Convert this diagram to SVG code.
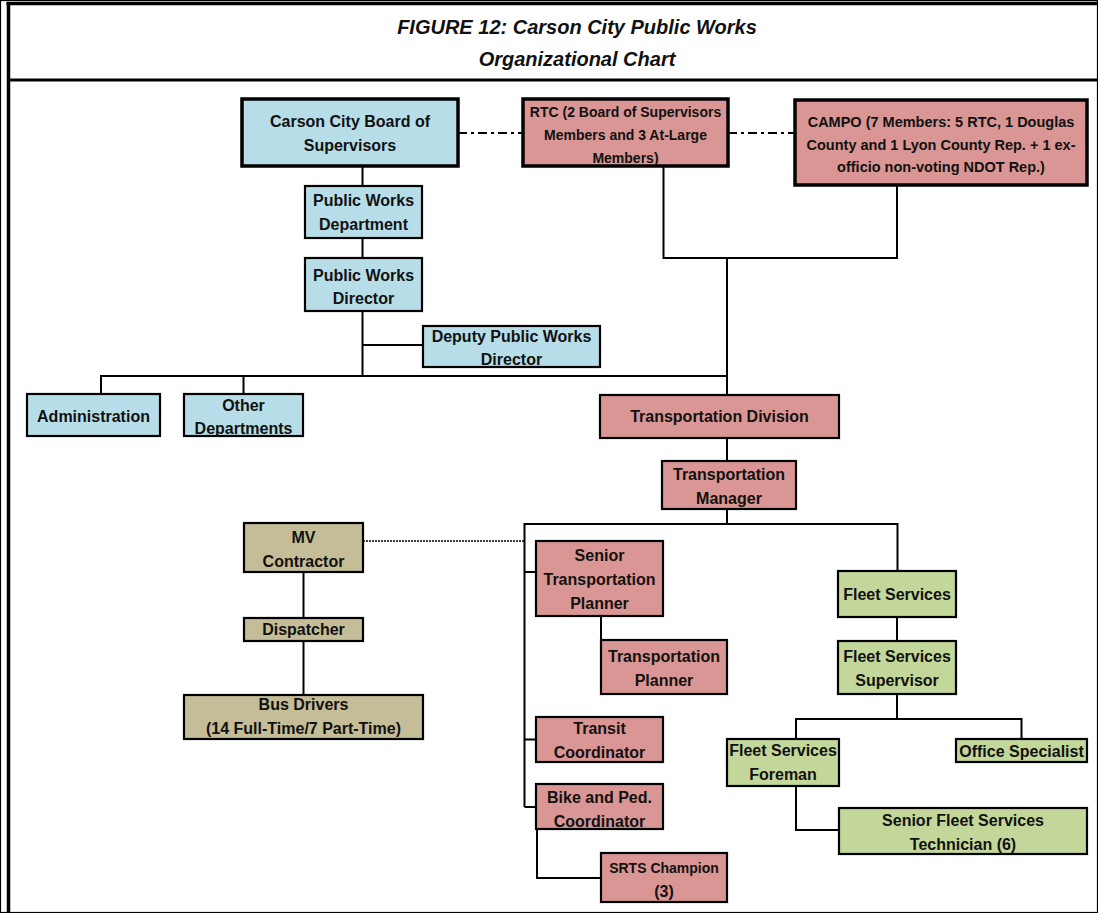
<svg xmlns="http://www.w3.org/2000/svg" width="1098" height="913" viewBox="0 0 1098 913">
<style>
.t{font-family:"Liberation Sans",Arial,sans-serif;font-weight:bold;font-size:16px;fill:#111;text-anchor:middle}
.s14{font-size:14px}
.s145{font-size:14.5px}
.title{font-family:"Liberation Sans",Arial,sans-serif;font-weight:bold;font-style:italic;font-size:20px;fill:#111;text-anchor:middle}
.b rect{fill:#b7dee8}
.r rect{fill:#da9694}
.k rect{fill:#c4bd97}
.g rect{fill:#c4d79b}
rect{stroke:#000;stroke-width:2.2}
.thick rect{stroke-width:3.5}
.c line,.c polyline{stroke:#000;stroke-width:2;fill:none}
.c .dd{stroke-dasharray:9 4 3 4}
.c .dot{stroke-width:1.5;stroke-dasharray:2 1}
</style>
<rect x="0" y="0" width="1098" height="913" fill="#fff" stroke="none"/>
<g id="frame">
<line x1="6.5" y1="3.5" x2="1098" y2="3.5" stroke="#000" stroke-width="3.5"/>
<line x1="8.5" y1="2" x2="8.5" y2="913" stroke="#000" stroke-width="3.5"/>
<line x1="8" y1="80" x2="1098" y2="80" stroke="#000" stroke-width="3"/>
<text class="title" x="577" y="34">FIGURE 12: Carson City Public Works</text>
<text class="title" x="577" y="66">Organizational Chart</text>
</g>
<g id="connectors" class="c">
<line class="dd" x1="458" y1="133" x2="523" y2="133"/>
<line class="dd" x1="728" y1="133" x2="795" y2="133"/>
<line x1="362.5" y1="166" x2="362.5" y2="186"/>
<line x1="362.5" y1="238" x2="362.5" y2="258"/>
<line x1="362.5" y1="311" x2="362.5" y2="376"/>
<line x1="362.5" y1="345" x2="423" y2="345"/>
<line x1="100" y1="376" x2="728" y2="376"/>
<line x1="101" y1="376" x2="101" y2="394"/>
<line x1="243.5" y1="376" x2="243.5" y2="394"/>
<polyline points="663.5,166 663.5,258 897,258 897,185"/>
<line x1="727" y1="258" x2="727" y2="395"/>
<line x1="727" y1="438" x2="727" y2="460"/>
<line x1="727" y1="508" x2="727" y2="524"/>
<polyline points="524.5,807 524.5,524 897.5,524 897.5,571"/>
<line x1="524.5" y1="572" x2="536" y2="572"/>
<line x1="524.5" y1="739.5" x2="536" y2="739.5"/>
<line x1="524.5" y1="807" x2="536" y2="807"/>
<line x1="601" y1="616" x2="601" y2="640"/>
<polyline points="537,829 537,878 601,878"/>
<line x1="303.5" y1="572" x2="303.5" y2="618"/>
<line x1="303.5" y1="641" x2="303.5" y2="695"/>
<line class="dot" x1="363" y1="541" x2="524" y2="541"/>
<line x1="897" y1="617" x2="897" y2="641"/>
<line x1="897" y1="694" x2="897" y2="719"/>
<polyline points="796,739 796,719 1021.5,719 1021.5,739"/>
<polyline points="796,786 796,830 839,830"/>
</g>
<g id="board" class="b thick"><rect x="242" y="99" width="216" height="67"/>
<text class="t" x="350" y="127">Carson City Board of</text><text class="t" x="350" y="151">Supervisors</text></g>
<g id="rtc" class="r thick"><rect x="523" y="99" width="205" height="67"/>
<text class="t s14" x="625.5" y="117">RTC (2 Board of Supervisors</text><text class="t s14" x="625.5" y="140">Members and 3 At-Large</text><text class="t s14" x="625.5" y="163">Members)</text></g>
<g id="campo" class="r thick"><rect x="795" y="100" width="292" height="85"/>
<text class="t s145" x="941" y="127">CAMPO (7 Members: 5 RTC, 1 Douglas</text><text class="t s145" x="941" y="149.5">County and 1 Lyon County Rep. + 1 ex-</text><text class="t s145" x="941" y="172">officio non-voting NDOT Rep.)</text></g>
<g id="pw-department" class="b"><rect x="305" y="186" width="117" height="52"/>
<text class="t" x="363.5" y="206">Public Works</text><text class="t" x="363.5" y="230">Department</text></g>
<g id="pw-director" class="b"><rect x="305" y="258" width="117" height="53"/>
<text class="t" x="363.5" y="280.5">Public Works</text><text class="t" x="363.5" y="303.5">Director</text></g>
<g id="deputy" class="b"><rect x="423" y="326" width="177" height="41"/>
<text class="t" x="511.5" y="341.5">Deputy Public Works</text><text class="t" x="511.5" y="364.5">Director</text></g>
<g id="administration" class="b"><rect x="27" y="394" width="133" height="42"/>
<text class="t" x="93.5" y="421.5">Administration</text></g>
<g id="other-departments" class="b"><rect x="184" y="394" width="119" height="42"/>
<text class="t" x="243.5" y="410.5">Other</text><text class="t" x="243.5" y="433.5">Departments</text></g>
<g id="transportation-division" class="r"><rect x="600" y="395" width="239" height="43"/>
<text class="t" x="719.5" y="421.5">Transportation Division</text></g>
<g id="transportation-manager" class="r"><rect x="662" y="461" width="134" height="48"/>
<text class="t" x="729" y="479.5">Transportation</text><text class="t" x="729" y="503.5">Manager</text></g>
<g id="mv-contractor" class="k"><rect x="244" y="523" width="119" height="49"/>
<text class="t" x="303.5" y="543">MV</text><text class="t" x="303.5" y="567">Contractor</text></g>
<g id="dispatcher" class="k"><rect x="244" y="618" width="119" height="23"/>
<text class="t" x="303.5" y="635">Dispatcher</text></g>
<g id="bus-drivers" class="k"><rect x="184" y="695" width="239" height="44"/>
<text class="t" x="303.5" y="710">Bus Drivers</text><text class="t" x="303.5" y="733.5">(14 Full-Time/7 Part-Time)</text></g>
<g id="senior-transportation-planner" class="r"><rect x="536" y="541" width="127" height="75"/>
<text class="t" x="599.5" y="561">Senior</text><text class="t" x="599.5" y="585">Transportation</text><text class="t" x="599.5" y="609">Planner</text></g>
<g id="transportation-planner" class="r"><rect x="601" y="640" width="126" height="54"/>
<text class="t" x="664" y="662">Transportation</text><text class="t" x="664" y="686">Planner</text></g>
<g id="transit-coordinator" class="r"><rect x="536" y="717" width="127" height="45"/>
<text class="t" x="599.5" y="733.5">Transit</text><text class="t" x="599.5" y="757.5">Coordinator</text></g>
<g id="bike-ped-coordinator" class="r"><rect x="536" y="784" width="127" height="45"/>
<text class="t" x="599.5" y="803">Bike and Ped.</text><text class="t" x="599.5" y="826.5">Coordinator</text></g>
<g id="srts-champion" class="r"><rect x="601" y="853" width="126" height="49"/>
<text class="t s14" x="664" y="872.5">SRTS Champion</text><text class="t" x="664" y="896.5">(3)</text></g>
<g id="fleet-services" class="g"><rect x="838" y="571" width="118" height="46"/>
<text class="t" x="897" y="599.5">Fleet Services</text></g>
<g id="fleet-services-supervisor" class="g"><rect x="838" y="641" width="118" height="53"/>
<text class="t" x="897" y="662">Fleet Services</text><text class="t" x="897" y="686">Supervisor</text></g>
<g id="fleet-services-foreman" class="g"><rect x="727" y="739" width="112" height="47"/>
<text class="t" x="783" y="755.5">Fleet Services</text><text class="t" x="783" y="779.5">Foreman</text></g>
<g id="office-specialist" class="g"><rect x="956" y="739" width="131" height="23"/>
<text class="t" x="1021.5" y="756.5">Office Specialist</text></g>
<g id="senior-fleet-technician" class="g"><rect x="839" y="808" width="248" height="46"/>
<text class="t" x="963" y="825.5">Senior Fleet Services</text><text class="t" x="963" y="849.5">Technician (6)</text></g>
</svg>
